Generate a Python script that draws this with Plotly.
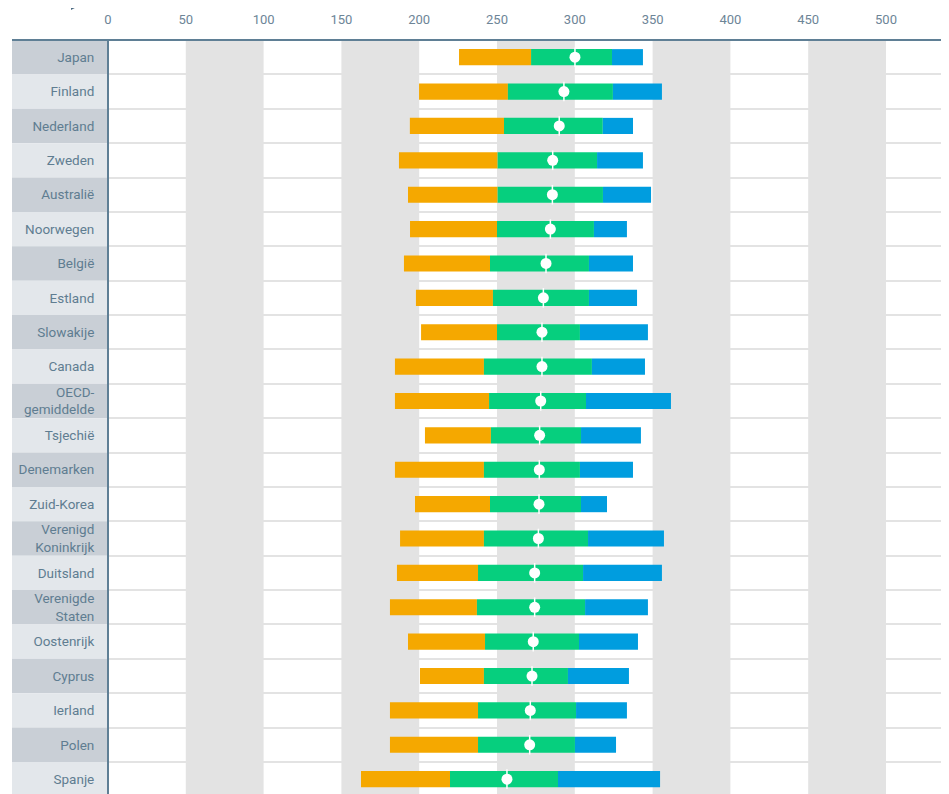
import plotly.graph_objects as go

# landen en scores (P5, P25, gemiddelde, P75, P95)
landen = ['Japan', 'Finland', 'Nederland', 'Zweden', 'Australië', 'Noorwegen', 'België',
          'Estland', 'Slowakije', 'Canada', 'OECD-<br>gemiddelde', 'Tsjechië', 'Denemarken',
          'Zuid-Korea', 'Verenigd<br>Koninkrijk', 'Duitsland', 'Verenigde<br>Staten',
          'Oostenrijk', 'Cyprus', 'Ierland', 'Polen', 'Spanje']
p5 = [225.6, 199.9, 194.0, 187.0, 192.8, 194.1, 190.2, 197.9, 201.2, 184.4, 184.4,
      203.7, 184.4, 197.3, 187.7, 185.7, 181.2, 192.8, 200.5, 181.2, 181.2, 162.6]
p25 = [271.9, 257.0, 254.5, 250.4, 250.4, 250.0, 245.5, 247.4, 250.0, 241.6, 244.9,
       246.1, 241.6, 245.5, 241.6, 237.8, 237.1, 242.3, 241.6, 237.8, 237.8, 219.8]
gemiddelde = [300.1, 293.0, 290.0, 285.8, 285.6, 284.3, 281.5, 279.8, 278.9, 278.9, 278.1,
              277.4, 277.2, 277.0, 276.6, 274.2, 274.2, 273.3, 272.5, 271.4, 271.0, 256.4]
p75 = [323.9, 324.5, 318.0, 314.3, 318.1, 312.3, 309.1, 309.1, 303.3, 311.0, 307.2,
       304.0, 303.3, 304.0, 308.5, 305.3, 306.6, 302.7, 295.6, 300.8, 300.1, 289.2]
p95 = [343.8, 356.0, 337.4, 343.8, 349.0, 333.5, 337.4, 340.0, 347.0, 345.1, 361.8,
       342.5, 337.4, 320.7, 357.3, 356.0, 347.0, 340.6, 334.8, 333.5, 326.5, 354.8]
x_ticks = [0, 50, 100, 150, 200, 250, 300, 350, 400, 450, 500]

# pagina heeft 8px body-marge
OFF = 8
W, H = 949 - OFF, 794 - OFF
L, T = 108 - OFF, 40 - OFF
pw, ph = W - L, H - T

def px_x(p):
    return (p - OFF - L) / pw

def px_y(p):
    return (H - (p - OFF)) / ph

idx = list(range(len(landen)))
fig = go.Figure()

kleuren = ['#f5a800', '#06cf7e', '#009ddf']
segmenten = [(p5, p25), (p25, p75), (p75, p95)]
for (lo, hi), kleur in zip(segmenten, kleuren):
    fig.add_trace(go.Bar(
        y=idx, base=lo, x=[h - l for l, h in zip(lo, hi)],
        orientation='h', width=0.47, marker=dict(color=kleur, line=dict(width=0)),
        showlegend=False, hoverinfo='skip'
    ))

# gemiddelde: witte stip met dun streepje
fig.add_trace(go.Scatter(
    x=gemiddelde, y=idx, mode='markers', showlegend=False, hoverinfo='skip',
    marker=dict(symbol='line-ns-open', size=14, color='white',
                line=dict(color='white', width=1.5))
))
fig.add_trace(go.Scatter(
    x=gemiddelde, y=idx, mode='markers', showlegend=False,
    marker=dict(symbol='circle', size=11, color='white', line=dict(width=0))
))

shapes = []
# grijze banden
for a in range(50, 501, 100):
    shapes.append(dict(type='rect', xref='x', yref='paper', x0=a, x1=a + 50, y0=0, y1=1,
                       fillcolor='#e3e3e3', line=dict(width=0), layer='below'))
# achtergrond labels
for i in idx:
    shapes.append(dict(type='rect', xref='paper', yref='y', x0=px_x(12), x1=0,
                       y0=i - 0.5, y1=i + 0.5, line=dict(width=0), layer='below',
                       fillcolor='#c9cfd6' if i % 2 == 0 else '#e3e7eb'))
# assen
shapes.append(dict(type='line', xref='paper', yref='paper', x0=px_x(12), x1=1, y0=1, y1=1,
                   line=dict(color='#5f7f95', width=2)))
shapes.append(dict(type='line', xref='paper', yref='paper', x0=0, x1=0, y0=0, y1=1,
                   line=dict(color='#5f7f95', width=2)))
# driehoekje linksboven
shapes.append(dict(type='path', xref='paper', yref='paper',
                   path=f'M {px_x(71)} {px_y(0)} L {px_x(90)} {px_y(0)} L {px_x(71)} {px_y(10)} Z',
                   fillcolor='#4c6a82', line=dict(width=0)))

fig.update_layout(
    width=W, height=H,
    margin=dict(l=L, r=0, t=T, b=0),
    barmode='overlay',
    plot_bgcolor='white', paper_bgcolor='white',
    font=dict(family='Roboto, sans-serif', size=13, color='#5f7d91'),
    shapes=shapes,
    xaxis=dict(range=[0, pw / 1.556], side='top', tickvals=x_ticks,
               showgrid=False, showline=False, zeroline=False,
               ticks='outside', ticklen=10, tickcolor='rgba(0,0,0,0)',
               tickfont=dict(size=13, color='#6d8597')),
    yaxis=dict(range=[(ph / 34.38) - 0.5, -0.5], tickvals=idx, ticktext=landen,
               showgrid=False, zeroline=False, showline=False,
               ticks='outside', ticklen=10, tickcolor='rgba(0,0,0,0)',
               tickfont=dict(size=13.5, color='#5f7d91'),
               minor=dict(tickvals=[i + 0.5 for i in idx], showgrid=True,
                          gridcolor='#e3e3e3', gridwidth=2, ticks='')),
)

fig.write_html('out.html')
